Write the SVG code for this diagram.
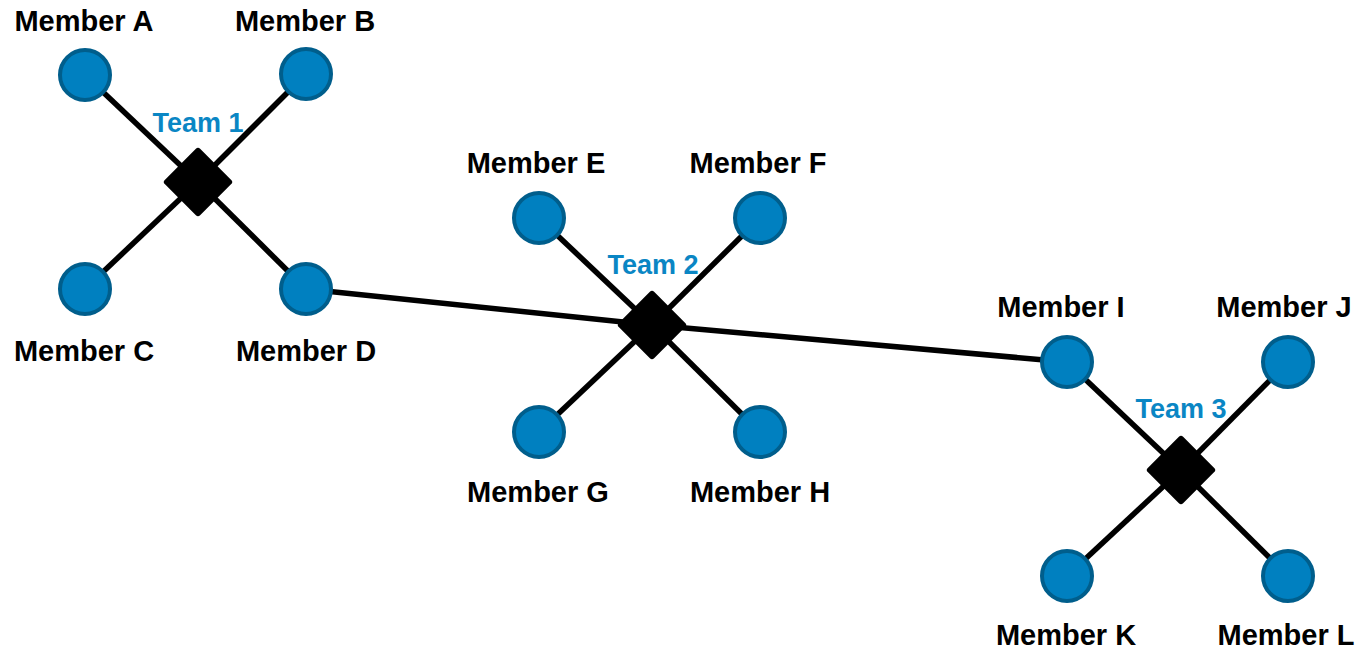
<svg xmlns="http://www.w3.org/2000/svg" width="1356" height="653" viewBox="0 0 1356 653">
<defs>
<style>
.conn{stroke:#000;stroke-width:5.5;fill:none}
.member{fill:#0080C0;stroke:#005E8C;stroke-width:4}
.hub{fill:#000}
.lbl{font-family:"Liberation Sans",Arial,sans-serif;font-weight:bold;font-size:29px;fill:#000;text-anchor:middle}
.team{font-family:"Liberation Sans",Arial,sans-serif;font-weight:bold;font-size:27px;fill:#0A86C4;text-anchor:middle}
</style>
<rect id="dia" x="-25" y="-25" width="50" height="50" rx="3" transform="rotate(45)"/>
</defs>
<rect width="1356" height="653" fill="#fff"/>
<g id="connectors">
<line class="conn" x1="198" y1="182" x2="85" y2="75"/>
<line class="conn" x1="198" y1="182" x2="306" y2="74"/>
<line class="conn" x1="198" y1="182" x2="85" y2="289"/>
<line class="conn" x1="198" y1="182" x2="306" y2="289"/>
<line class="conn" x1="652" y1="325" x2="539" y2="218"/>
<line class="conn" x1="652" y1="325" x2="760" y2="218"/>
<line class="conn" x1="652" y1="325" x2="539" y2="432"/>
<line class="conn" x1="652" y1="325" x2="760" y2="432"/>
<line class="conn" x1="1181" y1="470" x2="1067" y2="362"/>
<line class="conn" x1="1181" y1="470" x2="1288" y2="362"/>
<line class="conn" x1="1181" y1="470" x2="1067" y2="576"/>
<line class="conn" x1="1181" y1="470" x2="1288" y2="576"/>
<line class="conn" x1="306" y1="289" x2="652" y2="325"/>
<line class="conn" x1="652" y1="325" x2="1067" y2="362"/>
</g>
<g id="team1"><use href="#dia" class="hub" transform="translate(198 182)"/><text class="team" x="198" y="132">Team 1</text></g>
<g id="team2"><use href="#dia" class="hub" transform="translate(652 325)"/><text class="team" x="653" y="274">Team 2</text></g>
<g id="team3"><use href="#dia" class="hub" transform="translate(1181 470)"/><text class="team" x="1181" y="418">Team 3</text></g>
<g id="memberA"><circle class="member" cx="85" cy="75" r="25"/><text class="lbl" x="84" y="31">Member A</text></g>
<g id="memberB"><circle class="member" cx="306" cy="74" r="25"/><text class="lbl" x="305" y="31">Member B</text></g>
<g id="memberC"><circle class="member" cx="85" cy="289" r="25"/><text class="lbl" x="84" y="361">Member C</text></g>
<g id="memberD"><circle class="member" cx="306" cy="289" r="25"/><text class="lbl" x="306" y="361">Member D</text></g>
<g id="memberE"><circle class="member" cx="539" cy="218" r="25"/><text class="lbl" x="536" y="173">Member E</text></g>
<g id="memberF"><circle class="member" cx="760" cy="218" r="25"/><text class="lbl" x="758" y="173">Member F</text></g>
<g id="memberG"><circle class="member" cx="539" cy="432" r="25"/><text class="lbl" x="538" y="502">Member G</text></g>
<g id="memberH"><circle class="member" cx="760" cy="432" r="25"/><text class="lbl" x="760" y="502">Member H</text></g>
<g id="memberI"><circle class="member" cx="1067" cy="362" r="25"/><text class="lbl" x="1061" y="317">Member I</text></g>
<g id="memberJ"><circle class="member" cx="1288" cy="362" r="25"/><text class="lbl" x="1284" y="317">Member J</text></g>
<g id="memberK"><circle class="member" cx="1067" cy="576" r="25"/><text class="lbl" x="1066" y="645">Member K</text></g>
<g id="memberL"><circle class="member" cx="1288" cy="576" r="25"/><text class="lbl" x="1286" y="645">Member L</text></g>
</svg>
